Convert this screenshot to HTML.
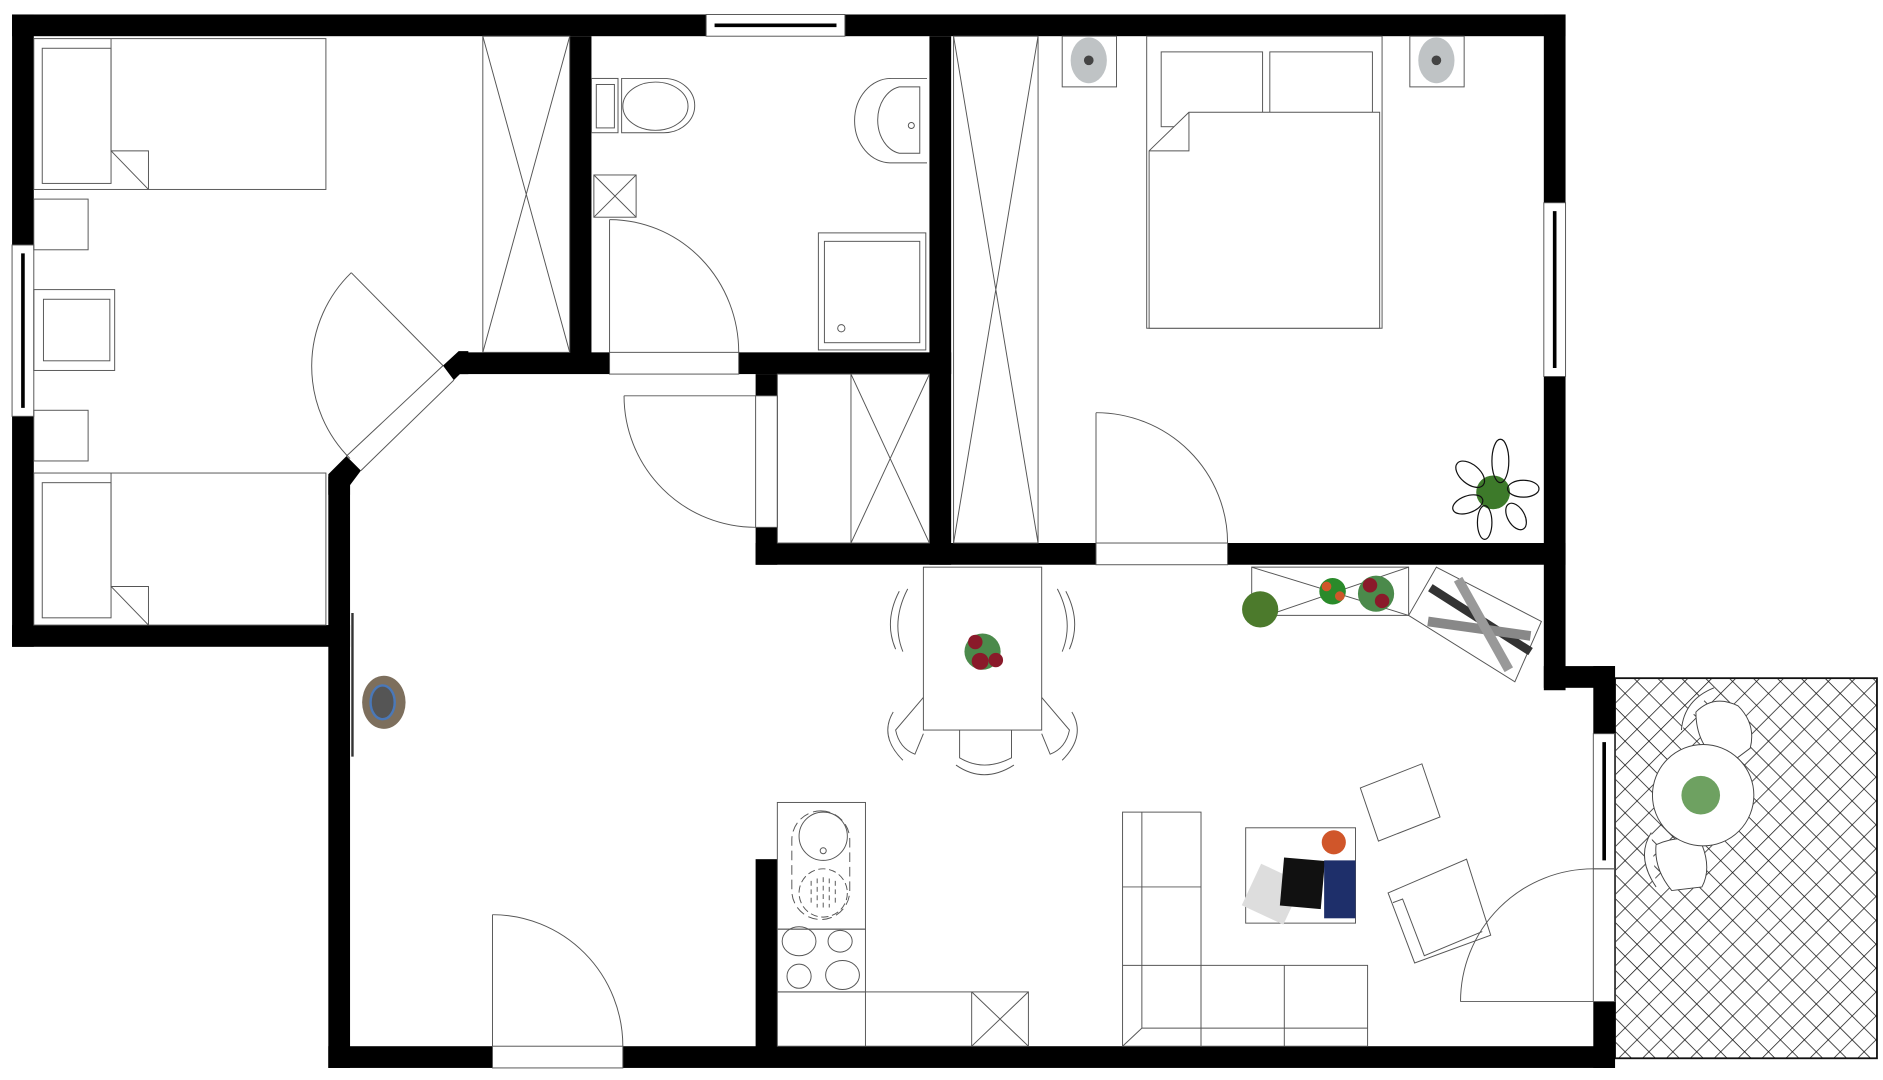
<!DOCTYPE html>
<html><head><meta charset="utf-8"><style>html,body{margin:0;padding:0;background:#fff;overflow:hidden}svg{display:block}</style></head>
<body>
<svg width="1883" height="1080" viewBox="0 0 1560 895" preserveAspectRatio="none" xmlns="http://www.w3.org/2000/svg">
<defs>
<pattern id="hatch" width="14" height="14" patternUnits="userSpaceOnUse" patternTransform="rotate(45)">
<rect width="14" height="14" fill="#fff"/>
<line x1="0" y1="0" x2="0" y2="14" stroke="#111" stroke-width="1.2"/>
<line x1="0" y1="0" x2="14" y2="0" stroke="#111" stroke-width="1.2"/>
</pattern>
</defs>
<rect width="1560" height="895" fill="#fff"/>
<!-- patio -->
<rect x="1338" y="562" width="217" height="315" fill="url(#hatch)" stroke="#111" stroke-width="1.5"/>
<g fill="#000">
<!-- top wall -->
<rect x="10" y="12" width="575" height="18"/>
<rect x="700" y="12" width="597" height="18"/>
<!-- left wall -->
<rect x="10" y="12" width="18" height="191"/>
<rect x="10" y="345" width="18" height="191"/>
<rect x="10" y="518" width="280" height="18"/>
<!-- hall left wall -->
<rect x="272" y="395" width="18" height="490"/>
<polygon points="272,393 287,378 299,390 290,402 290,410 272,410"/>
<polygon points="367,303 380,291 388,291 388,310 381,310 376,315"/>
<!-- wall above hall -->
<rect x="380" y="292" width="125" height="18"/>
<rect x="612" y="292" width="176" height="18"/>
<rect x="472" y="30" width="18" height="270"/>
<rect x="770" y="30" width="18" height="438"/>
<!-- closet -->
<rect x="626" y="310" width="18" height="18"/>
<rect x="626" y="437" width="18" height="31"/>
<rect x="626" y="450" width="282" height="18"/>
<rect x="1017" y="450" width="280" height="18"/>
<!-- right walls -->
<rect x="1279" y="12" width="18" height="156"/>
<rect x="1279" y="312" width="18" height="260"/>
<rect x="1279" y="552" width="59" height="18"/>
<rect x="1320" y="552" width="18" height="56"/>
<rect x="1320" y="830" width="18" height="55"/>
<!-- bottom -->
<rect x="272" y="867" width="136" height="18"/>
<rect x="516" y="867" width="822" height="18"/>
<rect x="626" y="712" width="18" height="160"/>
</g>
<g fill="none" stroke="#555" stroke-width="0.8">
<!-- windows -->
<rect x="585" y="12" width="115" height="18"/><line x1="592" y1="21" x2="693" y2="21" stroke="#000" stroke-width="3"/>
<rect x="10" y="203" width="18" height="142"/><line x1="19" y1="210" x2="19" y2="338" stroke="#000" stroke-width="3"/>
<rect x="1279" y="168" width="18" height="144"/><line x1="1288" y1="175" x2="1288" y2="305" stroke="#000" stroke-width="3"/>
<rect x="1320" y="608" width="18" height="112"/><line x1="1329" y1="615" x2="1329" y2="713" stroke="#000" stroke-width="3"/>
<!-- diagonal door opening -->
<line x1="287" y1="378" x2="367" y2="303"/><line x1="299" y1="390" x2="376" y2="315"/>
<line x1="367" y1="303" x2="291" y2="226"/>
<path d="M291,226 A108,108 0 0 0 290,380"/>
<!-- bedroom1 -->
<rect x="28" y="32" width="242" height="125"/>
<rect x="35" y="40" width="57" height="112"/>
<polyline points="92,32 92,125 123,125 123,157"/><line x1="92" y1="125" x2="123" y2="157"/>
<rect x="28" y="165" width="45" height="42"/>
<rect x="28" y="340" width="45" height="42"/>
<rect x="28" y="240" width="67" height="67"/><rect x="36" y="248" width="55" height="51"/>
<rect x="28" y="392" width="242" height="126"/>
<rect x="35" y="400" width="57" height="112"/>
<polyline points="92,392 92,486 123,486 123,518"/><line x1="92" y1="486" x2="123" y2="518"/>
<rect x="400" y="30" width="72" height="262"/><path d="M400,30 L472,292 M472,30 L400,292"/>
<!-- bathroom -->
<rect x="490" y="65" width="22" height="45"/><rect x="494" y="70" width="15" height="36"/>
<path d="M515,65 L550,65 A25,22 0 0 1 550,110 L515,110 Z"/>
<ellipse cx="543" cy="88" rx="27" ry="20"/>
<path d="M768,65 L738,65 A30,35 0 0 0 738,135 L768,135"/>
<path d="M745,72 L762,72 L762,127 L745,127 A22,28 0 0 1 745,72 Z"/>
<circle cx="755" cy="104" r="2.5"/>
<rect x="492" y="145" width="35" height="35"/><path d="M492,145 L527,180 M527,145 L492,180"/>
<line x1="505" y1="182" x2="505" y2="292"/><path d="M505,182 A107,110 0 0 1 612,292"/>
<rect x="505" y="292" width="107" height="18"/>
<rect x="678" y="193" width="89" height="97"/><rect x="683" y="200" width="79" height="84"/>
<circle cx="697" cy="272" r="3"/>
<!-- bedroom2 -->
<rect x="790" y="30" width="70" height="420"/><path d="M790,30 L860,450 M860,30 L790,450"/>
<rect x="880" y="30" width="45" height="42"/><rect x="1168" y="30" width="45" height="42"/>
<rect x="950" y="30" width="195" height="242"/>
<rect x="962" y="43" width="84" height="62"/><rect x="1052" y="43" width="85" height="62"/>
<polygon points="985,93 1143,93 1143,272 952,272 952,125" fill="#fff"/>
<polyline points="952,125 985,125 985,93"/>
<line x1="908" y1="342" x2="908" y2="450"/><path d="M908,342 A109,108 0 0 1 1017,450"/>
<rect x="908" y="450" width="109" height="18"/>
<!-- closet -->
<rect x="644" y="310" width="126" height="140"/>
<line x1="705" y1="310" x2="705" y2="450"/><path d="M705,310 L770,450 M770,310 L705,450"/>
<rect x="626" y="328" width="18" height="109"/>
<line x1="517" y1="328" x2="626" y2="328"/><path d="M517,328 A109,109 0 0 0 626,437"/>
<!-- dining -->
<rect x="765" y="470" width="98" height="135"/>
<path d="M752,488 Q738,515 748,540 M745,490 Q732,515 742,538"/>
<path d="M876,488 Q890,515 880,540 M883,490 Q896,515 886,538"/>
<path d="M765,578 L742,605 Q745,620 758,625 L765,608 M740,590 Q728,610 748,630"/>
<path d="M863,578 L886,605 Q883,620 870,625 L863,608 M888,590 Q900,610 880,630"/>
<path d="M795,605 L795,628 Q815,640 838,628 L838,605 M792,634 Q815,650 840,634"/>
<polygon points="1037,470 1167,470 1167,510 1050,510 1037,495"/>
<path d="M1037,470 L1167,510 M1167,470 L1050,510"/>
<polygon points="1190,470 1277,515 1255,565 1167,510"/>
<!-- coat rack -->
<line x1="292" y1="508" x2="292" y2="627" stroke="#333" stroke-width="2"/>
<!-- kitchen -->
<rect x="644" y="665" width="73" height="105"/>
<rect x="656" y="672" width="48" height="90" rx="24" stroke-dasharray="8,4"/>
<circle cx="682" cy="693" r="20"/><circle cx="682" cy="705" r="2.5"/>
<circle cx="682" cy="740" r="20" stroke-dasharray="6,3"/>
<path d="M672,730 v20 M677,728 v24 M682,727 v26 M687,728 v24 M692,730 v20" stroke-dasharray="4,3"/>
<rect x="644" y="770" width="73" height="52"/>
<ellipse cx="662" cy="780" rx="14" ry="12"/><ellipse cx="696" cy="780" rx="10" ry="9"/>
<ellipse cx="662" cy="809" rx="10" ry="10"/><ellipse cx="698" cy="808" rx="14" ry="12"/>
<rect x="644" y="822" width="208" height="45"/><line x1="717" y1="822" x2="717" y2="867"/><line x1="805" y1="822" x2="805" y2="867"/>
<path d="M805,822 L852,867 M852,822 L805,867"/>
<!-- sofa -->
<rect x="930" y="673" width="65" height="194"/><line x1="930" y1="735" x2="995" y2="735"/><line x1="930" y1="800" x2="995" y2="800"/>
<line x1="946" y1="673" x2="946" y2="852"/><line x1="946" y1="852" x2="1133" y2="852"/><line x1="946" y1="852" x2="930" y2="867"/>
<rect x="995" y="800" width="138" height="67"/><line x1="1064" y1="800" x2="1064" y2="867"/>
<rect x="1032" y="686" width="91" height="79"/>
<polygon points="1127,653 1178,633 1193,677 1142,697"/>
<polygon points="1150,740 1215,712 1235,775 1172,798"/>
<polyline points="1154,748 1162,745 1180,792 1228,772"/>
<line x1="1210" y1="830" x2="1320" y2="830"/><path d="M1210,830 A110,110 0 0 1 1320,720"/>
<rect x="1320" y="720" width="18" height="110"/>
<!-- entry -->
<line x1="408" y1="758" x2="408" y2="867"/><path d="M408,758 A108,109 0 0 1 516,867"/>
<rect x="408" y="867" width="108" height="18"/>
</g>
<!-- patio furniture -->
<g fill="#fff" stroke="#444" stroke-width="0.8">
<path d="M1405,590 Q1420,575 1440,585 Q1455,600 1450,620 L1430,635 Q1405,620 1405,590 Z"/>
<path d="M1393,605 Q1395,580 1420,570"/>
<path d="M1372,700 Q1395,690 1410,700 Q1418,720 1410,735 L1385,738 Q1370,720 1372,700 Z"/>
<path d="M1368,690 Q1355,710 1372,735"/>
<circle cx="1411" cy="659" r="42"/>
</g>
<!-- images approximations -->
<g>
<circle cx="1237" cy="408" r="14" fill="#3d7a2a"/>
<g fill="none" stroke="#111" stroke-width="1"><ellipse cx="1243" cy="382" rx="7" ry="18"/><ellipse cx="1218" cy="393" rx="14" ry="8" transform="rotate(40 1218 393)"/><ellipse cx="1262" cy="405" rx="13" ry="7"/><ellipse cx="1216" cy="418" rx="13" ry="7" transform="rotate(-20 1216 418)"/><ellipse cx="1230" cy="433" rx="6" ry="14"/><ellipse cx="1256" cy="428" rx="7" ry="12" transform="rotate(-30 1256 428)"/></g>
<ellipse cx="902" cy="50" rx="15" ry="19" fill="#bfc3c5"/><circle cx="902" cy="50" r="4" fill="#444"/>
<ellipse cx="1190" cy="50" rx="15" ry="19" fill="#bfc3c5"/><circle cx="1190" cy="50" r="4" fill="#444"/>
<circle cx="814" cy="540" r="15" fill="#4b8a4b"/><circle cx="808" cy="532" r="6" fill="#8a1a2a"/><circle cx="812" cy="548" r="7" fill="#8a1a2a"/><circle cx="825" cy="547" r="6" fill="#8a1a2a"/>
<circle cx="1044" cy="505" r="15" fill="#4c7a2c"/>
<circle cx="1104" cy="490" r="11" fill="#2a8a2a"/><circle cx="1099" cy="486" r="4" fill="#d0562a"/><circle cx="1110" cy="494" r="4" fill="#d0562a"/>
<circle cx="1140" cy="492" r="15" fill="#4b8a4b"/><circle cx="1135" cy="485" r="6" fill="#8a1a2a"/><circle cx="1145" cy="498" r="6" fill="#8a1a2a"/>
<line x1="1185" y1="487" x2="1268" y2="540" stroke="#333" stroke-width="7"/>
<line x1="1183" y1="515" x2="1268" y2="527" stroke="#888" stroke-width="8"/>
<line x1="1208" y1="480" x2="1250" y2="555" stroke="#999" stroke-width="8"/>
<ellipse cx="318" cy="582" rx="18" ry="22" fill="#7d6f5d"/><ellipse cx="317" cy="582" rx="10" ry="14" fill="#555" stroke="#4a78b8" stroke-width="2"/>
<circle cx="1409" cy="659" r="16" fill="#4a8a3a" opacity="0.8"/>
<circle cx="1105" cy="698" r="10" fill="#d0562a"/>
<rect x="1035" y="722" width="38" height="38" fill="#ddd" transform="rotate(25 1054 741)"/>
<rect x="1062" y="712" width="34" height="40" fill="#111" transform="rotate(5 1079 732)"/>
<rect x="1097" y="713" width="26" height="48" fill="#1e2f6a"/>
</g>
</svg>
</body></html>
